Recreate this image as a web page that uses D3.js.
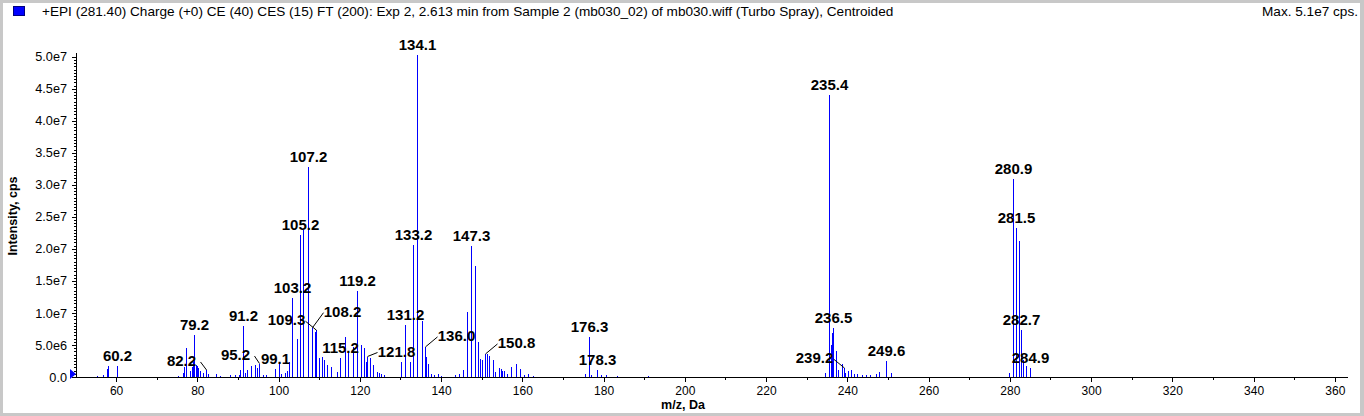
<!DOCTYPE html>
<html>
<head>
<meta charset="utf-8">
<script src="https://cdn.jsdelivr.net/npm/d3@7"></script>
<style>
  html, body { margin: 0; padding: 0; background: #c8c8c8; }
  svg { display: block; font-family: "Liberation Sans", Arial, sans-serif; }
</style>
</head>
<body>
<svg id="chart" width="1364" height="416"></svg>
<script>
// peak list, m/z and intensity (millions of cps)
const peakMz = [
  55.2, 56.8, 57.7, 57.9, 60.2,
  75.3, 76.5, 76.8, 77.2, 78.2, 78.7, 79.0, 79.2, 79.6, 79.9, 80.2, 80.6, 81.4, 82.2, 82.7,
  84.6, 85.6, 88.0, 89.2, 90.3, 90.6, 91.2, 91.7, 92.3, 93.3, 94.2, 94.7, 95.2, 96.2, 97.0,
  99.1, 100.1, 100.7, 101.5, 102.1, 102.6, 103.2, 104.6, 105.2, 106.1, 107.2, 108.2, 109.0, 109.3,
  109.9, 110.6, 111.2, 112.0, 113.0, 114.3, 115.2, 116.3, 117.2, 118.2, 119.2, 120.2, 121.0,
  121.6, 121.8, 122.4, 123.3, 124.1, 124.7, 125.3, 126.0,
  130.2, 131.2, 132.3, 133.2, 134.1, 135.2, 136.0, 136.4, 136.8, 137.5, 138.3, 139.2, 140.0,
  143.5, 144.5, 145.4, 146.4, 147.3, 148.3, 149.2, 149.6, 150.1, 150.8, 151.2, 151.8, 152.7,
  153.2, 154.2, 154.7, 155.0, 155.5, 156.2, 157.2, 158.4, 159.5, 160.5, 161.5, 162.5,
  175.5, 176.3, 177.0, 178.3, 179.4, 180.5, 183.3, 191.0,
  234.5, 235.4, 235.9, 236.3, 236.5, 237.2, 237.8, 238.6, 239.2, 239.5, 240.2, 240.8, 241.6,
  242.4, 243.5, 244.5, 245.5, 247.0, 247.8, 249.6, 250.8,
  279.9, 280.9, 281.5, 282.2, 282.7, 283.3, 284.0, 284.9
];
const peakIntensity = [
  0.2, 0.35, 1.2, 1.65, 1.65,
  0.15, 0.7, 1.5, 4.6, 0.9, 1.5, 2.4, 6.6, 1.9, 1.7, 1.4, 0.9, 0.6, 1.1, 0.5,
  0.5, 0.2, 0.3, 0.35, 0.35, 1.1, 7.9, 0.7, 1.1, 1.7, 1.8, 1.4, 2.1, 0.35, 0.3,
  1.3, 2.4, 0.5, 0.7, 0.9, 2.4, 12.4, 5.9, 22.2, 23.0, 32.8, 7.7, 7.1, 7.3,
  2.9, 3.2, 2.7, 1.9, 1.6, 0.8, 2.9, 6.3, 3.8, 4.7, 13.5, 5.0, 4.5,
  2.4, 3.2, 2.9, 1.9, 0.8, 0.6, 0.5, 0.3,
  2.4, 8.1, 2.4, 20.6, 50.3, 8.7, 4.7, 3.2, 2.1, 0.4, 0.3, 0.4, 0.2,
  0.3, 0.4, 1.1, 10.2, 20.5, 17.3, 5.5, 2.8, 2.7, 3.6, 3.6, 3.3, 2.7,
  0.8, 1.4, 1.2, 1.0, 0.9, 0.4, 1.5, 2.0, 1.2, 0.3, 0.5, 0.2,
  0.5, 6.3, 0.3, 1.1, 0.3, 0.3, 0.15, 0.15,
  0.6, 44.0, 5.0, 6.9, 7.6, 4.0, 1.1, 2.1, 1.4, 0.7, 1.0, 1.1, 0.4,
  0.5, 0.3, 0.3, 0.3, 0.5, 0.8, 2.5, 0.7,
  0.7, 30.9, 23.2, 21.3, 7.3, 2.7, 1.7, 1.4
];

// annotated peaks
const labelMz = [
  60.2, 79.2, 82.2, 91.2, 95.2, 99.1, 103.2, 105.2, 107.2, 108.2, 109.3, 115.2, 119.2,
  121.8, 131.2, 133.2, 134.1, 136.0, 147.3, 150.8, 176.3, 178.3, 235.4, 236.5, 239.2,
  249.6, 280.9, 281.5, 282.7, 284.9
];

const xMajorTicks = [60, 80, 100, 120, 140, 160, 180, 200, 220, 240, 260, 280, 300, 320, 340, 360];
const yMajorTicks = [0, 5, 10, 15, 20, 25, 30, 35, 40, 45, 50];

const headerText = "+EPI (281.40) Charge (+0) CE (40) CES (15) FT (200): Exp 2, 2.613 min from Sample 2 (mb030_02) of mb030.wiff (Turbo Spray), Centroided";
const maxText = "Max. 5.1e7 cps.";

// labels pushed aside by the software, with a leader line back to the peak (px)
const LABEL_NUDGE = {
  "82.2": [-25, 1], "95.2": [-24, 1.5], "108.2": [30, -6], "109.3": [-30, 0],
  "121.8": [29, 5], "136.0": [31, -1], "150.8": [31, -1], "239.2": [-30, 0]
};

const BAR_COLOR = "#0000ff";
const svg = d3.select("#chart");

// frame
svg.append("rect").attr("x", 3).attr("y", 3).attr("width", 1357).attr("height", 410).attr("fill", "#fff");

const x = d3.scaleLinear().domain([50, 363]).range([75.5, 1347]);
const y = d3.scaleLinear().domain([0, 50]).range([377, 56.7]);

// header
svg.append("rect").attr("x", 13.5).attr("y", 6.5).attr("width", 11).attr("height", 9)
  .attr("fill", "#0000ff").attr("stroke", "#000080");
svg.append("text").attr("x", 42).attr("y", 16).attr("font-size", "13.6px").attr("fill", "#000").text(headerText);
svg.append("text").attr("x", 1358).attr("y", 16).attr("text-anchor", "end").attr("font-size", "13.6px")
  .attr("fill", "#000").text(maxText);

// axes
const fmtY = v => v === 0 ? "0.0" : (v * 1e6).toExponential(1).replace("e+", "e");

const xMinor = svg.append("g").attr("transform", "translate(0,377)")
  .call(d3.axisBottom(x).tickValues(d3.range(60, 361, 10)).tickSize(3).tickSizeOuter(0).tickFormat(""));
xMinor.select(".domain").remove();
const xAxis = svg.append("g").attr("transform", "translate(0,377)")
  .call(d3.axisBottom(x).tickValues(xMajorTicks).tickSize(5).tickSizeOuter(0).tickPadding(4).tickFormat(d3.format("d")));
xAxis.selectAll("text").attr("font-size", "12px").attr("fill", "#000").attr("font-family", "Liberation Sans, Arial");

const yMinor = svg.append("g").attr("transform", "translate(76,0)")
  .call(d3.axisLeft(y).tickValues(d3.range(0, 50.01, 0.5)).tickSize(2).tickSizeOuter(0).tickFormat(""));
yMinor.select(".domain").remove();
const yAxis = svg.append("g").attr("transform", "translate(76,0)")
  .call(d3.axisLeft(y).tickValues(yMajorTicks).tickSize(4).tickSizeOuter(0).tickPadding(5).tickFormat(fmtY));
yAxis.selectAll("text").attr("font-size", "12.7px").attr("fill", "#000").attr("font-family", "Liberation Sans, Arial");
yAxis.select(".domain").attr("d", "M0.5,377V53");
svg.selectAll(".tick line").attr("stroke", "#000").attr("shape-rendering", "crispEdges");
svg.selectAll(".domain").attr("stroke", "#000").attr("shape-rendering", "crispEdges");

// axis titles
svg.append("text").attr("x", 683).attr("y", 409).attr("text-anchor", "middle")
  .attr("font-size", "12.5px").attr("font-weight", "bold").attr("fill", "#000").text("m/z, Da");
svg.append("text").attr("transform", "translate(17,216) rotate(-90)").attr("text-anchor", "middle")
  .attr("font-size", "12.5px").attr("font-weight", "bold").attr("fill", "#000").text("Intensity, cps");

// small marker at the origin
svg.append("path").attr("d", d3.line()([[70, 369], [70, 379], [76, 374]]) + "Z").attr("fill", BAR_COLOR);

// stick spectrum
const peaks = peakMz.map((mz, i) => ({ mz, v: peakIntensity[i] }));
svg.append("g").selectAll("line").data(peaks).join("line")
  .attr("x1", d => Math.round(x(d.mz)) + 0.5)
  .attr("x2", d => Math.round(x(d.mz)) + 0.5)
  .attr("y1", y(0))
  .attr("y2", d => y(d.v))
  .attr("stroke", BAR_COLOR)
  .attr("stroke-width", 1)
  .attr("shape-rendering", "crispEdges");

// peak annotations
const labels = labelMz.map(mz => {
  const p = peaks.reduce((a, b) => Math.abs(b.mz - mz) < Math.abs(a.mz - mz) ? b : a);
  const key = mz.toFixed(1);
  const [dx, dy] = LABEL_NUDGE[key] || [0, 0];
  return { text: key, px: Math.round(x(p.mz)) + 0.5, py: y(p.v), dx, dy };
});
const lg = svg.append("g");
labels.filter(d => d.dx !== 0).forEach(d => {
  const lx = d.px + d.dx + (d.dx > 0 ? -19 : 19);
  const ly = d.py - 5 + d.dy - 4;
  lg.append("line").attr("x1", lx).attr("y1", ly).attr("x2", d.px).attr("y2", d.py)
    .attr("stroke", "#000").attr("stroke-width", 1);
});
lg.selectAll("text").data(labels).join("text")
  .attr("x", d => d.px + d.dx)
  .attr("y", d => d.py - 5 + d.dy)
  .attr("text-anchor", "middle")
  .attr("font-size", "15px")
  .attr("font-weight", "bold")
  .attr("fill", "#000")
  .text(d => d.text);
</script>
</body>
</html>
